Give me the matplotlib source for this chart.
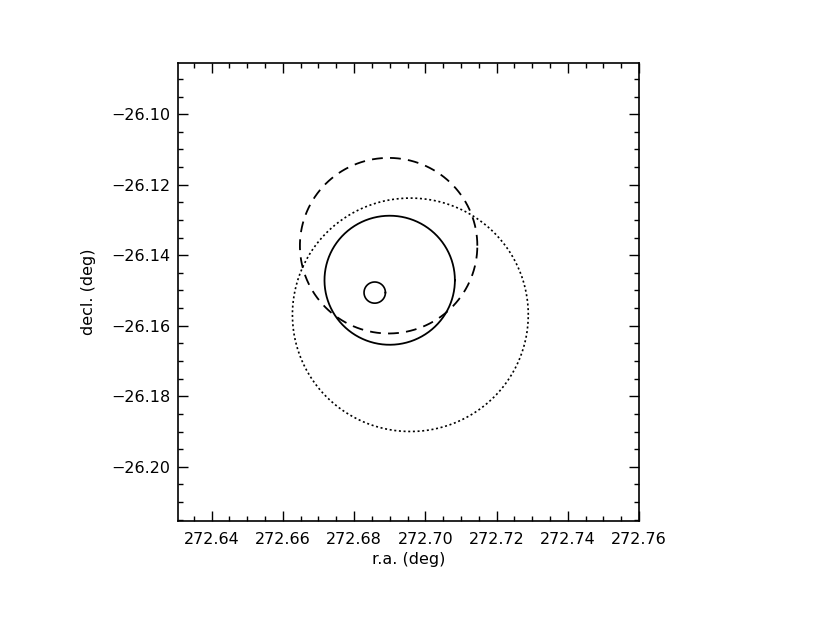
import matplotlib
matplotlib.use('Agg')
import matplotlib.pyplot as plt
import numpy as np
from matplotlib.ticker import MultipleLocator, FuncFormatter

# circles: centre ra, centre dec, radius (deg)
solid_c = (272.6900, -26.1471, 0.0183)
dashed_c = (272.6897, -26.1373, 0.0249)
dotted_c = (272.6958, -26.1569, 0.0331)
small_c = (272.6858, -26.1506, 0.0030)

xlim = (272.6305, 272.76005)
ylim = (-26.2153, -26.0854)


def circle(c, n=400):
    t = np.linspace(0, 2 * np.pi, n)
    return c[0] + c[2] * np.cos(t), c[1] + c[2] * np.sin(t)


def fmt(v, pos):
    return ('%.2f' % v).replace('-', '\u2212')


fig = plt.figure(figsize=(8.3, 6.19), dpi=100)
ax = fig.add_axes([0.2141, 0.1588, 0.5561, 0.7399])

x, y = circle(solid_c)
ax.plot(x, y, color='black', lw=1.3)
x, y = circle(dashed_c)
ax.plot(x, y, color='black', lw=1.3, linestyle=(0, (6, 4)))
x, y = circle(dotted_c)
ax.plot(x, y, color='black', lw=1.2, linestyle=(0, (1.2, 1.6)))
x, y = circle(small_c, 100)
ax.plot(x, y, color='black', lw=1.2)

ax.set_xlim(*xlim)
ax.set_ylim(*ylim)

ax.xaxis.set_major_locator(MultipleLocator(0.02))
ax.xaxis.set_minor_locator(MultipleLocator(0.005))
ax.yaxis.set_major_locator(MultipleLocator(0.02))
ax.yaxis.set_minor_locator(MultipleLocator(0.005))
ax.xaxis.set_major_formatter(FuncFormatter(fmt))
ax.yaxis.set_major_formatter(FuncFormatter(fmt))

ax.tick_params(which='both', direction='in', top=True, right=True, width=1.0, color='black')
ax.tick_params(which='major', length=7.2)
ax.tick_params(which='minor', length=3.6)
ax.tick_params(axis='x', which='major', pad=8, labelsize=11.5)
ax.tick_params(axis='y', which='major', pad=5, labelsize=11.5)
for s in ax.spines.values():
    s.set_linewidth(1.2)

ax.set_xlabel('r.a. (deg)', fontsize=11.5, labelpad=4)
ax.set_ylabel('decl. (deg)', fontsize=11.5, labelpad=11)

fig.savefig('out.png', dpi=100)
